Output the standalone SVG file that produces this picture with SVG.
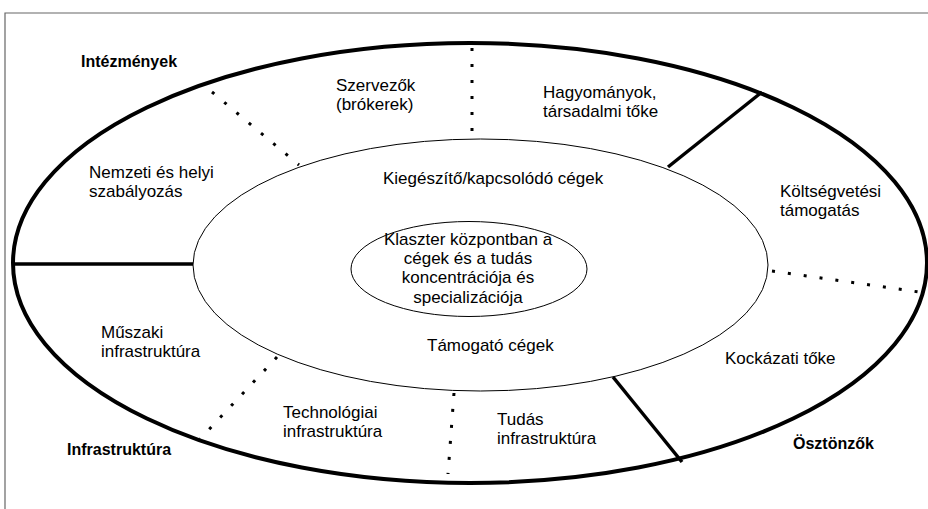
<svg xmlns="http://www.w3.org/2000/svg" width="928" height="509" viewBox="0 0 928 509">
<style>
.t{font-family:"Liberation Sans",Arial,sans-serif;font-size:17px;fill:#000}
.b{font-family:"Liberation Sans",Arial,sans-serif;font-size:16px;font-weight:bold;fill:#000}
.c{text-anchor:middle}
.solid{stroke:#000;stroke-width:3.5;fill:none}
.dot{stroke:#000;stroke-width:3;stroke-dasharray:3 13;fill:none}
</style>
<rect width="928" height="509" fill="#fff"/>
<path d="M5,509 V13 H928" fill="none" stroke="#666" stroke-width="1.2"/>
<g id="outer">
<ellipse cx="470" cy="263" rx="457" ry="220" fill="none" stroke="#000" stroke-width="4"/>
</g>
<g id="middle">
<ellipse cx="480.5" cy="265" rx="287.5" ry="126" fill="none" stroke="#000" stroke-width="1"/>
</g>
<g id="core">
<ellipse cx="469" cy="269" rx="118" ry="47.5" fill="none" stroke="#000" stroke-width="1"/>
<text class="t c" x="468" y="245">Klaszter központban a</text>
<text class="t c" x="468" y="264">cégek és a tudás</text>
<text class="t c" x="468" y="283">koncentrációja és</text>
<text class="t c" x="468" y="303">specializációja</text>
</g>
<g id="connectors">
<line class="solid" x1="13" y1="264" x2="193" y2="264"/>
<line class="solid" x1="762" y1="92" x2="668" y2="167"/>
<line class="solid" x1="613" y1="377" x2="682" y2="462"/>
<line class="dot" x1="472" y1="48" x2="472" y2="138"/>
<line class="dot" x1="212" y1="92" x2="299" y2="165"/>
<line class="dot" x1="772" y1="271" x2="919" y2="292"/>
<line class="dot" x1="277" y1="357" x2="200" y2="439"/>
<line class="dot" x1="454" y1="393" x2="448" y2="474"/>
</g>
<g id="label-intezmenyek"><text class="b" x="81" y="67">Intézmények</text></g>
<g id="label-infrastruktura"><text class="b" x="67" y="455">Infrastruktúra</text></g>
<g id="label-osztonzok"><text class="b" x="793" y="449">Ösztönzők</text></g>
<g id="seg-szervezok"><text class="t" x="336" y="91">Szervezők</text><text class="t" x="336" y="110">(brókerek)</text></g>
<g id="seg-hagyomanyok"><text class="t" x="543" y="98">Hagyományok,</text><text class="t" x="543" y="117">társadalmi tőke</text></g>
<g id="seg-nemzeti"><text class="t" x="89" y="178">Nemzeti és helyi</text><text class="t" x="89" y="197">szabályozás</text></g>
<g id="seg-kiegeszito"><text class="t" x="383" y="184">Kiegészítő/kapcsolódó  cégek</text></g>
<g id="seg-koltseg"><text class="t" x="780" y="197">Költségvetési</text><text class="t" x="780" y="216">támogatás</text></g>
<g id="seg-tamogato"><text class="t" x="427" y="351">Támogató cégek</text></g>
<g id="seg-muszaki"><text class="t" x="101" y="338">Műszaki</text><text class="t" x="101" y="357">infrastruktúra</text></g>
<g id="seg-technologiai"><text class="t" x="283" y="418">Technológiai</text><text class="t" x="283" y="437">infrastruktúra</text></g>
<g id="seg-tudas"><text class="t" x="497" y="425">Tudás</text><text class="t" x="497" y="444">infrastruktúra</text></g>
<g id="seg-kockazati"><text class="t" x="725" y="364">Kockázati tőke</text></g>
</svg>
